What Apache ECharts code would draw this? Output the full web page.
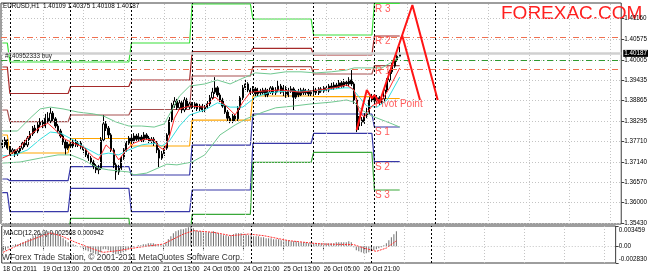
<!DOCTYPE html>
<html><head><meta charset="utf-8">
<script src="https://cdn.jsdelivr.net/npm/echarts@6/dist/echarts.min.js"></script>
<style>html,body{margin:0;padding:0;background:#fff}#c{width:650px;height:274px}</style>
</head><body><div id="c"></div>
<script>
const categories = Array.from({length: 245}, (_, i) => String(i));
const tickLabels = ['18 Oct 2011','19 Oct 13:00','20 Oct 05:00','20 Oct 21:00','21 Oct 13:00','24 Oct 05:00','24 Oct 21:00','25 Oct 13:00','26 Oct 05:00','26 Oct 21:00'];
const priceTicks = [1.35430,1.36000,1.36570,1.37140,1.37710,1.38295,1.38865,1.39435,1.40005,1.40575,1.41160];
const macdTicks = [0.003459, 0, -0.00283];
const macdTickText = ['0.003459','0.00','-0.002830'];

// [open, close, low, high]
const candles = [
[1.3767,1.3762,1.3753,1.3778],[1.3762,1.3776,1.3756,1.3784],[1.3776,1.3753,1.3748,1.3778],[1.3753,1.3742,1.3734,1.3759],
[1.3742,1.3748,1.3737,1.3753],[1.3748,1.3737,1.3728,1.3750],[1.3737,1.3745,1.3731,1.3750],[1.3745,1.3753,1.3739,1.3759],
[1.3753,1.3767,1.3748,1.3773],[1.3767,1.3762,1.3756,1.3776],[1.3762,1.3781,1.3756,1.3787],[1.3781,1.3793,1.3776,1.3801],
[1.3793,1.3809,1.3787,1.3815],[1.3809,1.3801,1.3795,1.3818],[1.3801,1.3818,1.3795,1.3826],[1.3818,1.3826,1.3812,1.3837],
[1.3826,1.3815,1.3809,1.3832],[1.3815,1.3837,1.3809,1.3849],[1.3837,1.3829,1.3823,1.3854],[1.3829,1.3851,1.3823,1.3866],
[1.3851,1.3835,1.3829,1.3857],[1.3835,1.3815,1.3809,1.3840],[1.3815,1.3801,1.3795,1.3821],[1.3801,1.3787,1.3781,1.3807],
[1.3787,1.3770,1.3762,1.3793],[1.3770,1.3753,1.3734,1.3776],[1.3753,1.3764,1.3748,1.3770],[1.3764,1.3759,1.3753,1.3773],
[1.3759,1.3773,1.3753,1.3778],[1.3773,1.3762,1.3756,1.3778],[1.3762,1.3767,1.3756,1.3773],[1.3767,1.3756,1.3750,1.3773],
[1.3756,1.3748,1.3739,1.3762],[1.3748,1.3734,1.3728,1.3753],[1.3734,1.3725,1.3717,1.3739],[1.3725,1.3714,1.3708,1.3731],
[1.3714,1.3703,1.3694,1.3720],[1.3703,1.3692,1.3683,1.3708],[1.3692,1.3697,1.3680,1.3706],[1.3697,1.3776,1.3692,1.3784],
[1.3776,1.3821,1.3770,1.3846],[1.3821,1.3809,1.3801,1.3829],[1.3809,1.3790,1.3781,1.3815],[1.3790,1.3748,1.3742,1.3795],
[1.3748,1.3706,1.3697,1.3753],[1.3706,1.3686,1.3664,1.3711],[1.3686,1.3697,1.3678,1.3706],[1.3697,1.3725,1.3692,1.3731],
[1.3725,1.3748,1.3720,1.3753],[1.3748,1.3767,1.3742,1.3773],[1.3767,1.3781,1.3762,1.3787],[1.3781,1.3773,1.3767,1.3790],
[1.3773,1.3787,1.3767,1.3795],[1.3787,1.3778,1.3773,1.3793],[1.3778,1.3784,1.3773,1.3795],[1.3784,1.3776,1.3770,1.3790],
[1.3776,1.3790,1.3770,1.3798],[1.3790,1.3781,1.3776,1.3795],[1.3781,1.3773,1.3767,1.3787],[1.3773,1.3778,1.3764,1.3784],
[1.3778,1.3767,1.3759,1.3784],[1.3767,1.3748,1.3739,1.3773],[1.3748,1.3725,1.3700,1.3753],[1.3725,1.3737,1.3720,1.3745],
[1.3737,1.3753,1.3731,1.3759],[1.3753,1.3790,1.3748,1.3795],[1.3790,1.3832,1.3784,1.3840],[1.3832,1.3874,1.3826,1.3880],
[1.3874,1.3885,1.3866,1.3896],[1.3885,1.3866,1.3860,1.3891],[1.3866,1.3880,1.3860,1.3888],[1.3880,1.3860,1.3851,1.3885],
[1.3860,1.3888,1.3854,1.3896],[1.3888,1.3868,1.3863,1.3894],[1.3868,1.3877,1.3863,1.3882],[1.3877,1.3868,1.3863,1.3882],
[1.3868,1.3877,1.3863,1.3882],[1.3877,1.3863,1.3857,1.3880],[1.3863,1.3871,1.3857,1.3877],[1.3871,1.3860,1.3854,1.3877],
[1.3860,1.3868,1.3854,1.3874],[1.3868,1.3877,1.3863,1.3885],[1.3877,1.3894,1.3871,1.3902],[1.3894,1.3910,1.3888,1.3922],
[1.3910,1.3922,1.3905,1.3952],[1.3922,1.3902,1.3896,1.3927],[1.3902,1.3888,1.3882,1.3908],[1.3888,1.3871,1.3866,1.3894],
[1.3871,1.3854,1.3849,1.3877],[1.3854,1.3837,1.3829,1.3860],[1.3837,1.3829,1.3823,1.3843],[1.3829,1.3843,1.3823,1.3849],
[1.3843,1.3835,1.3829,1.3849],[1.3835,1.3866,1.3829,1.3871],[1.3866,1.3894,1.3860,1.3899],[1.3894,1.3922,1.3888,1.3930],
[1.3922,1.3933,1.3916,1.3944],[1.3933,1.3916,1.3910,1.3938],[1.3916,1.3910,1.3902,1.3922],[1.3910,1.3919,1.3905,1.3927],
[1.3919,1.3905,1.3899,1.3924],[1.3905,1.3913,1.3899,1.3922],[1.3913,1.3908,1.3902,1.3919],[1.3908,1.3916,1.3902,1.3922],
[1.3916,1.3902,1.3896,1.3922],[1.3902,1.3910,1.3896,1.3919],[1.3910,1.3922,1.3905,1.3927],[1.3922,1.3908,1.3902,1.3927],
[1.3908,1.3916,1.3902,1.3924],[1.3916,1.3927,1.3910,1.3944],[1.3927,1.3910,1.3905,1.3933],[1.3910,1.3922,1.3899,1.3930],
[1.3922,1.3902,1.3894,1.3927],[1.3902,1.3913,1.3896,1.3922],[1.3913,1.3919,1.3908,1.3927],[1.3919,1.3896,1.3860,1.3924],
[1.3896,1.3910,1.3891,1.3916],[1.3910,1.3902,1.3896,1.3919],[1.3902,1.3916,1.3899,1.3922],[1.3916,1.3908,1.3902,1.3922],
[1.3908,1.3913,1.3902,1.3919],[1.3913,1.3905,1.3899,1.3919],[1.3905,1.3910,1.3899,1.3916],[1.3910,1.3916,1.3905,1.3922],
[1.3916,1.3908,1.3902,1.3922],[1.3908,1.3919,1.3902,1.3924],[1.3919,1.3913,1.3908,1.3924],[1.3913,1.3922,1.3908,1.3927],
[1.3922,1.3916,1.3910,1.3930],[1.3916,1.3927,1.3910,1.3933],[1.3927,1.3922,1.3916,1.3936],[1.3922,1.3930,1.3916,1.3938],
[1.3930,1.3924,1.3919,1.3936],[1.3924,1.3936,1.3919,1.3944],[1.3936,1.3927,1.3922,1.3941],[1.3927,1.3938,1.3922,1.3947],
[1.3938,1.3933,1.3927,1.3944],[1.3933,1.3944,1.3927,1.3952],[1.3944,1.3933,1.3927,1.3972],[1.3933,1.3888,1.3877,1.3938],
[1.3888,1.3815,1.3798,1.3894],[1.3815,1.3832,1.3804,1.3843],[1.3832,1.3826,1.3815,1.3840],[1.3826,1.3843,1.3821,1.3851],
[1.3843,1.3854,1.3837,1.3866],[1.3854,1.3888,1.3849,1.3896],[1.3888,1.3896,1.3882,1.3905],[1.3896,1.3885,1.3877,1.3902],
[1.3885,1.3894,1.3880,1.3902],[1.3894,1.3882,1.3874,1.3899],[1.3882,1.3891,1.3877,1.3899],[1.3891,1.3916,1.3885,1.3922],
[1.3916,1.3944,1.3910,1.3949],[1.3944,1.3967,1.3938,1.3972],[1.3967,1.3983,1.3961,1.3992],[1.3983,1.4000,1.3978,1.4006],
[1.4000,1.4011,1.3995,1.4017],[1.40109,1.40187,1.40108,1.40375]
];

// daily pivot levels (one value per trading day)
const dayStart = [0,3,27,51,75,99,123,147];
const pivotR3 = [1.40478,1.39945,1.39945,1.40478,1.41572,1.41151,1.40702,1.41591];
const pivotR2 = [1.39805,1.39062,1.39258,1.39440,1.40234,1.40329,1.40141,1.40674];
const pivotR1 = [1.38599,1.38271,1.38459,1.38613,1.39552,1.39813,1.39609,1.39841];
const pivotPP = [1.37898,1.37393,1.37800,1.37589,1.38318,1.38992,1.38977,1.38921];
const pivotS1 = [1.36664,1.36616,1.37009,1.36776,1.37616,1.38487,1.38487,1.38122];
const pivotS2 = [1.36280,1.35747,1.36403,1.35747,1.36355,1.37665,1.37945,1.37149];
const pivotS3 = [1.34953,1.34953,1.35562,1.34953,1.35674,1.37132,1.37412,1.36355];
const levelNames = ['R 3','R 2','R 1','Pivot Point','S 1','S 2','S 3'];

// indicator lines, read at sample bars [bar, price]
const maRed = [[0,1.3725],[3,1.3734],[7,1.3756],[11,1.3790],[15,1.3812],[18,1.3823],[21,1.3804],[24,1.3781],[28,1.3767],[32,1.3756],[36,1.3728],[38,1.3720],[41,1.3762],[44,1.3742],[46,1.3720],[49,1.3748],[52,1.3767],[56,1.3778],[60,1.3776],[62,1.3756],[64,1.3748],[66,1.3784],[68,1.3837],[70,1.3863],[74,1.3871],[80,1.3868],[84,1.3896],[88,1.3874],[92,1.3846],[95,1.3882],[98,1.3910],[103,1.3913],[110,1.3916],[118,1.3910],[125,1.3916],[131,1.3922],[136,1.3930],[139,1.3916],[141,1.3854],[143,1.3840],[146,1.3871],[150,1.3888],[153,1.3922],[157,1.3978]];
const maCyan = [[0,1.3731],[5,1.3734],[10,1.3748],[15,1.3778],[19,1.3798],[23,1.3795],[28,1.3776],[33,1.3753],[38,1.3734],[42,1.3739],[46,1.3734],[50,1.3748],[55,1.3762],[60,1.3767],[63,1.3759],[66,1.3773],[70,1.3815],[74,1.3846],[80,1.3860],[85,1.3880],[90,1.3868],[95,1.3868],[100,1.3896],[105,1.3908],[112,1.3913],[120,1.3913],[128,1.3916],[135,1.3922],[138,1.3922],[141,1.3896],[144,1.3871],[148,1.3868],[152,1.3888],[157,1.3952]];
const bandUpper = [[0,1.3801],[6,1.3801],[11,1.3837],[15,1.3863],[19,1.3868],[24,1.3863],[30,1.3854],[36,1.3849],[40,1.3843],[45,1.3826],[50,1.3815],[55,1.3815],[60,1.3812],[64,1.3821],[67,1.3860],[70,1.3899],[74,1.3927],[80,1.3933],[85,1.3944],[90,1.3933],[95,1.3949],[100,1.3964],[106,1.3961],[112,1.3967],[118,1.3967],[124,1.3964],[130,1.3967],[136,1.3972],[139,1.3978],[142,1.3978],[146,1.3978],[150,1.3978],[154,1.3995],[157,1.4009]];
const bandLower = [[0,1.3711],[7,1.3714],[15,1.3725],[22,1.3734],[27,1.3734],[32,1.3720],[38,1.3697],[42,1.3692],[50,1.3686],[52,1.3678],[57,1.3683],[65,1.3708],[69,1.3706],[75,1.3714],[80,1.3734],[86,1.3790],[92,1.3818],[97,1.3837],[103,1.3854],[108,1.3866],[115,1.3871],[122,1.3877],[130,1.3882],[136,1.3888],[139,1.3882],[142,1.3860],[146,1.3843],[150,1.3832],[154,1.3821],[157,1.3812]];

// MACD(12,26,9)
const macdMain = [
-0.00085,-0.00068,-0.00034,0,0.00017,0.00034,0.00034,
0.00051,0.00068,0.00085,0.00119,0.00136,0.0017,0.00187,0.00204,0.00221,0.00238,
0.00238,0.00255,0.00255,0.00238,0.00221,
0.00204,0.0017,0.00136,0.00102,0.00068,0.00051,0.00034,0.00017,
0,-0.00017,-0.00034,-0.00068,-0.00085,-0.00102,-0.00119,-0.00136,-0.00136,
-0.00102,-0.00051,-0.00051,-0.00068,
-0.00085,-0.00119,-0.00136,-0.00136,-0.00119,
-0.00102,-0.00085,-0.00051,-0.00034,-0.00017,0,0.00017,0.00017,0.00034,0.00034,0.00051,0.00051,0.00051,
0.00034,0.00017,0.00017,0.00034,0.00068,0.00119,
0.0017,0.00221,0.00255,0.00272,0.00289,0.00289,0.00306,0.00323,0.003459,0.00306,0.00272,
0.00255,0.00255,0.00238,0.00238,0.00238,0.00238,0.00255,0.00238,0.00221,0.00204,0.00187,0.00187,0.0017,
0.00187,0.00204,0.00221,0.00221,0.00221,0.00204,0.00204,0.00187,0.00187,0.0017,0.0017,0.0017,0.00153,
0.00153,0.00136,0.00136,0.00136,0.00119,0.00119,0.00119,0.00102,0.00102,0.00102,0.00102,0.00085,0.00085,
0.00085,0.00068,0.00068,0.00068,0.00068,0.00051,0.00051,0.00051,0.00051,0.00051,0.00051,0.00051,
0.00051,0.00051,0.00051,0.00051,0.00068,0.00068,0.00068,0.00068,0.00068,0.00085,0.00068,
-0.00017,-0.00068,-0.00085,-0.00102,-0.00119,-0.00119,-0.00102,-0.00085,-0.00068,
-0.00051,-0.00034,-0.00017,0.00017,0.00051,0.00102,0.00153,0.00204,0.002568];
const macdSignal = [[0,-0.00102],[7,0.00039],[14,0.00153],[19,0.00226],[23,0.00182],[29,0.00068],[36,-0.00046],[40,-0.00102],[46,-0.00073],[54,-0.00017],[64,0.00039],[72,0.00209],[76,0.00267],[84,0.00238],[91,0.00182],[98,0.00209],[104,0.00182],[114,0.00097],[123,0.00056],[128,0.00039],[140,0.00029],[144,-0.00029],[149,-0.00085],[153,-0.00029],[157,0.000942]];

// hand-drawn forecast lines
const zigzagMain = [[140,1.38038],[144,1.39160],[146,1.38927],[147,1.39020],[149,1.38810],[162,1.41544],[172,1.38879]];
const zigzagBranch = [[158,1.40680],[165,1.38879]];

// chart lines
const daySeparators = [3,27,51,75,99,123,147,171];
const gridColumns = [0,16,32,48,64,80,96,112,128,144,160,176,192,208,224,240];
const bidPrice = 1.40187, orderPrice = 1.40005, takeProfit = 1.40638, stopLoss = 1.39740;

function perBar(levels) {
  const out = [];
  for (let i = 0; i < candles.length; i++) {
    let d = 0;
    while (d + 1 < dayStart.length && i >= dayStart[d + 1]) d++;
    out.push(levels[d]);
  }
  return out;
}
const FONT = 'Liberation Sans';
const labelInterval = (idx) => idx % 16 === 0 && idx / 16 < tickLabels.length;
const pivotSets = [
  [pivotR3, '#3be03b'], [pivotR2, '#a52a2a'], [pivotR1, '#a85050'], [pivotPP, '#ffa500'],
  [pivotS1, '#3838a8'], [pivotS2, '#3838a8'], [pivotS3, '#3aa83a']
];
const pivotSeries = pivotSets.map(([lv, col]) => ({
  type: 'line', xAxisIndex: 0, yAxisIndex: 0, data: perBar(lv), symbol: 'none', z: 3,
  lineStyle: { color: col, width: 1.2 }, silent: true, animation: false
}));
const levelLabelSeries = {
  type: 'scatter', xAxisIndex: 0, yAxisIndex: 0, symbolSize: 1, z: 6, silent: true,
  itemStyle: { color: 'rgba(0,0,0,0)' },
  data: pivotSets.map(([lv], k) => ({ value: [dayStart[dayStart.length - 1], lv[lv.length - 1]], name: levelNames[k] })),
  label: { show: true, position: 'right', distance: 0, offset: [0, 5.5], formatter: p => p.name,
           color: '#ff3535', fontSize: 10, fontFamily: FONT }
};
const dotted = { color: '#c4c4c4', type: [1, 2], width: 1 };
const sepStyle = { color: '#000', type: [2, 2], width: 1 };
function gridLineSeries(xi, yi, data, style) {
  return { type: 'line', xAxisIndex: xi, yAxisIndex: yi, data: [], z: 0, silent: true,
    markLine: { silent: true, precision: 8, symbol: ['none', 'none'], animation: false, label: { show: false }, lineStyle: style, data } };
}
const indicatorLine = (data, color, w) => ({ type: 'line', xAxisIndex: 0, yAxisIndex: 0, data, symbol: 'none', z: 4, silent: true,
  lineStyle: { color, width: w } });
const macdLabelFmt = v => {
  const k = macdTicks.findIndex(t => Math.abs(t - v) < 1e-9);
  if (k < 0) return '';
  return k === 0 ? '{t|' + macdTickText[k] + '}' : (k === macdTicks.length - 1 ? '{b|' + macdTickText[k] + '}' : macdTickText[k]);
};

const option = {
  animation: false,
  backgroundColor: '#ffffff',
  grid: [
    { left: 1, right: 24, top: 3, height: 221, show: true, borderColor: '#3c3c3c', borderWidth: 1 },
    { left: 1, right: 24, top: 226, height: 37, show: true, borderColor: '#3c3c3c', borderWidth: 1 }
  ],
  xAxis: [
    { type: 'category', gridIndex: 0, data: categories, boundaryGap: true,
      axisLine: { show: false }, axisTick: { show: false }, axisLabel: { show: false }, splitLine: { show: false } },
    { type: 'category', gridIndex: 1, data: categories, boundaryGap: true, axisLine: { show: false },
      axisTick: { show: true, alignWithLabel: true, interval: labelInterval, length: 3, lineStyle: { color: '#404040' } },
      axisLabel: { interval: labelInterval, formatter: (v, i) => tickLabels[i / 16], align: 'left',
        fontSize: 6.3, color: '#000', margin: 3, fontFamily: FONT },
      splitLine: { show: false } }
  ],
  yAxis: [
    { type: 'value', gridIndex: 0, position: 'right', min: 1.35402, max: 1.41600,
      axisLine: { show: false }, splitLine: { show: false },
      axisTick: { show: true, customValues: priceTicks, length: 3, lineStyle: { color: '#404040' } },
      axisLabel: { customValues: priceTicks, formatter: v => v.toFixed(5), fontSize: 6.3, color: '#000', margin: 3, fontFamily: FONT } },
    { type: 'value', gridIndex: 1, position: 'right', min: -0.00283, max: 0.003459,
      axisLine: { show: false }, splitLine: { show: false },
      axisTick: { show: true, customValues: macdTicks, length: 3, lineStyle: { color: '#404040' } },
      axisLabel: { customValues: macdTicks, formatter: macdLabelFmt, fontSize: 6.3, color: '#000', margin: 3, fontFamily: FONT,
        rich: { t: { fontSize: 6.3, fontFamily: FONT, color: '#000', padding: [9, 0, 0, 0] },
                b: { fontSize: 6.3, fontFamily: FONT, color: '#000', padding: [0, 0, 8, 0] } } } }
  ],
  graphic: [
    { type: 'text', x: 3, y: 6.5, silent: true, style: { text: 'EURUSD,H1  1.40109 1.40375 1.40108 1.40187', fill: '#000', font: '6.3px "Liberation Sans"', verticalAlign: 'middle' } },
    { type: 'text', x: 501, y: 13.5, silent: true, style: { text: 'FOREXAC.COM', fill: '#ff1f1f', font: '19px "Liberation Sans"', verticalAlign: 'middle' } },
    { type: 'text', x: 4, y: 233, silent: true, style: { text: 'MACD(12,26,9) 0.002568 0.000942', fill: '#000', font: '6.3px "Liberation Sans"', verticalAlign: 'middle' } },
    { type: 'text', x: 2, y: 257.5, silent: true, style: { text: 'WForex Trade Station, © 2001-2011 MetaQuotes Software Corp.', fill: '#333', font: '8.4px "Liberation Sans"', verticalAlign: 'middle' } }
  ],
  series: [
    gridLineSeries(0, 0, [...priceTicks.map(v => ({ yAxis: v })), ...gridColumns.map(c => ({ xAxis: c }))], dotted),
    gridLineSeries(1, 1, [{ yAxis: 0 }, ...gridColumns.map(c => ({ xAxis: c }))], dotted),
    gridLineSeries(0, 0, daySeparators.map(c => ({ xAxis: c })), sepStyle),
    gridLineSeries(1, 1, daySeparators.map(c => ({ xAxis: c })), sepStyle),
    { type: 'line', xAxisIndex: 0, yAxisIndex: 0, data: [], z: 1, silent: true,
      markLine: { silent: true, precision: 8, symbol: ['none', 'none'], animation: false, data: [
        { yAxis: bidPrice, lineStyle: { color: '#d0d0d0', width: 2.5, type: 'solid' },
          label: { show: true, position: 'end', formatter: bidPrice.toFixed(5), backgroundColor: '#000', color: '#fff',
                   fontSize: 6.3, fontFamily: FONT, padding: [1, 1, 0, 1], distance: 2 } },
        { yAxis: orderPrice, lineStyle: { color: '#2f9a2f', width: 1, type: [6, 3, 1, 3] },
          label: { show: true, position: 'insideStartTop', formatter: '#140952333 buy', color: '#222',
                   fontSize: 6.3, fontFamily: FONT, distance: [4, 1] } },
        { yAxis: takeProfit, lineStyle: { color: '#f07050', width: 1, type: [6, 3, 1, 3] }, label: { show: false } },
        { yAxis: stopLoss, lineStyle: { color: '#f07050', width: 1, type: [6, 3, 1, 3] }, label: { show: false } }
      ] } },
    ...pivotSeries,
    indicatorLine(bandUpper, '#70c890', 1),
    indicatorLine(bandLower, '#70c890', 1),
    { type: 'candlestick', xAxisIndex: 0, yAxisIndex: 0, data: candles, z: 3, silent: true,
      barWidth: '70%', barMaxWidth: 2,
      itemStyle: { color: '#ffffff', color0: '#000000', borderColor: '#000000', borderColor0: '#000000', borderWidth: 1 } },
    indicatorLine(maCyan, '#33e0e0', 1),
    indicatorLine(maRed, '#ff2a2a', 1),
    { type: 'line', xAxisIndex: 0, yAxisIndex: 0, data: zigzagMain, symbol: 'none', z: 5, silent: true, lineStyle: { color: '#ff1414', width: 2 } },
    { type: 'line', xAxisIndex: 0, yAxisIndex: 0, data: zigzagBranch, symbol: 'none', z: 5, silent: true, lineStyle: { color: '#ff1414', width: 2 } },
    levelLabelSeries,
    { type: 'bar', xAxisIndex: 1, yAxisIndex: 1, data: macdMain, barWidth: 1, silent: true, itemStyle: { color: '#707070' } },
    { type: 'line', xAxisIndex: 1, yAxisIndex: 1, data: macdSignal, symbol: 'none', silent: true, z: 4,
      lineStyle: { color: '#ff3030', width: 1, type: [2, 1] } }
  ]
};
const chart = echarts.init(document.getElementById('c'), null, { renderer: 'canvas' });
chart.setOption(option);
</script>
</body></html>
